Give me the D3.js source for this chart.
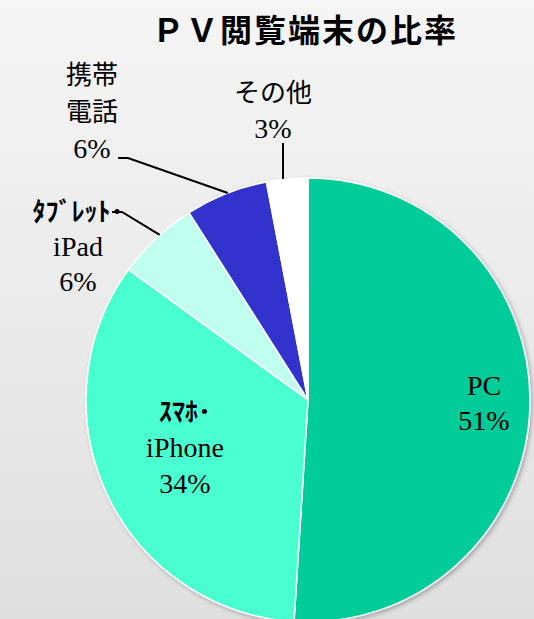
<!DOCTYPE html>
<html>
<head>
<meta charset="utf-8">
<script src="https://cdn.jsdelivr.net/npm/d3@7"></script>
<style>
  html, body { margin: 0; padding: 0; }
  body { width: 534px; height: 619px; overflow: hidden; }
</style>
</head>
<body>
<div id="chart"></div>
<script>
// data, clockwise from 12 o'clock
var categories = ['PC', 'スマホ・iPhone', 'タブレット・iPad', '携帯電話', 'その他'];
var shares = [51, 34, 6, 6, 3];
var colors = ['#00cc99', '#4affd0', '#c0ffee', '#3333cc', '#ffffff'];
// label text lines: [text, kind]
var labelLines = [
  [['PC', 'serif'], ['51%', 'serif']],
  [['ｽﾏﾎ･', 'kana'], ['iPhone', 'serif'], ['34%', 'serif']],
  [['ﾀﾌﾞﾚｯﾄ･', 'kana'], ['iPad', 'serif'], ['6%', 'serif']],
  [['携帯', 'jp'], ['電話', 'jp'], ['6%', 'serif']],
  [['その他', 'jp'], ['3%', 'serif']]
];

var width = 534, height = 619;
var cx = 308, cy = 400, radius = 222;

var svg = d3.select('#chart').append('svg')
  .attr('width', width)
  .attr('height', height);

var defs = svg.append('defs');
var grad = defs.append('linearGradient')
  .attr('id', 'bg')
  .attr('x1', 0).attr('y1', 0).attr('x2', 0).attr('y2', 1);
grad.append('stop').attr('offset', '0%').attr('stop-color', '#f5f5f5');
grad.append('stop').attr('offset', '100%').attr('stop-color', '#dfdfdf');

var shadow = defs.append('filter').attr('id', 'shadow')
  .attr('x', '-10%').attr('y', '-10%').attr('width', '120%').attr('height', '120%');
shadow.append('feDropShadow')
  .attr('dx', 2).attr('dy', 2).attr('stdDeviation', 2)
  .attr('flood-color', '#000').attr('flood-opacity', 0.25);

svg.append('rect')
  .attr('width', width)
  .attr('height', height)
  .attr('fill', 'url(#bg)');

svg.append('text')
  .attr('x', 305)
  .attr('y', 42)
  .attr('text-anchor', 'middle')
  .attr('font-family', '"Noto Sans CJK JP", sans-serif')
  .attr('font-weight', 'bold')
  .attr('font-size', 32)
  .attr('letter-spacing', 2)
  .attr('fill', '#000')
  .text('ＰＶ閲覧端末の比率');

var pie = d3.pie().sort(null).value(function (d) { return d; });
var arc = d3.arc().innerRadius(0).outerRadius(radius);
var arcs = pie(shares);

var g = svg.append('g')
  .attr('transform', 'translate(' + cx + ',' + cy + ')');

g.append('g')
  .attr('filter', 'url(#shadow)')
  .selectAll('path')
  .data(arcs)
  .enter()
  .append('path')
  .attr('d', arc)
  .attr('fill', function (d, i) { return colors[i]; })
  .attr('stroke', '#ffffff')
  .attr('stroke-width', 1.5);

// leader lines
var line = d3.line();
function edge(i, t) {
  var a = arcs[i];
  var ang = a.startAngle + (a.endAngle - a.startAngle) * t;
  return [cx + radius * Math.sin(ang), cy - radius * Math.cos(ang)];
}
var leaders = [
  [2, [[112, 212], [122, 212]], 0.56],
  [3, [[118, 158], [128, 158]], 0.52],
  [4, [[283, 143]], 0.5]
];
leaders.forEach(function (l) {
  var end = edge(l[0], l[2]);
  var pts = l[1].slice();
  if (l[0] === 4) end = [283, end[1]];
  pts.push(end);
  svg.append('path')
    .attr('d', line(pts))
    .attr('fill', 'none')
    .attr('stroke', '#000')
    .attr('stroke-width', 2);
});

// label positions: [x, first baseline, line gap]
var labelPos = [
  [484, 395, 35],
  [185, 421, 36],
  [78, 221, 35],
  [92, 84, 37],
  [273, 102, 36]
];

var fonts = {
  serif: { family: '"Liberation Serif", "Times New Roman", serif', size: 28, weight: 'normal' },
  jp: { family: '"Noto Sans CJK JP", sans-serif', size: 26, weight: 'normal' },
  kana: { family: '"Noto Sans CJK JP", sans-serif', size: 26, weight: 'bold' }
};

labelLines.forEach(function (lines, i) {
  var p = labelPos[i];
  var t = svg.append('g');
  lines.forEach(function (ln, j) {
    var f = fonts[ln[1]];
    t.append('text')
      .attr('x', p[0])
      .attr('y', p[1] + j * p[2])
      .attr('text-anchor', 'middle')
      .attr('font-family', f.family)
      .attr('font-size', f.size)
      .attr('font-weight', f.weight)
      .attr('fill', '#000')
      .text(ln[0]);
  });
});
</script>
</body>
</html>
